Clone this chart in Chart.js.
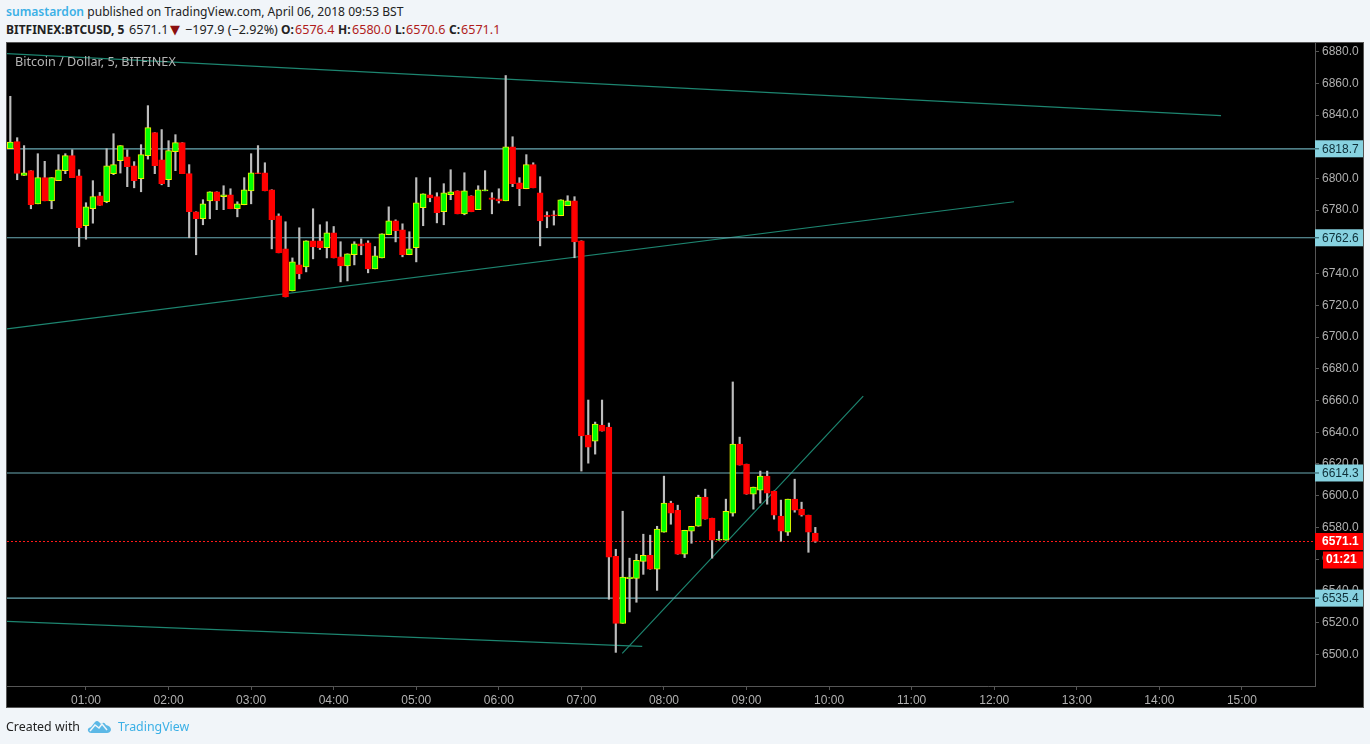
<!DOCTYPE html>
<html>
<head>
<meta charset="utf-8">
<title>BTCUSD</title>
<script src="https://cdn.jsdelivr.net/npm/chart.js@4"></script>
<style>
  html, body { margin: 0; padding: 0; background: #f1f5f9; }
  body { width: 1370px; height: 744px; position: relative; overflow: hidden; font-family: "Noto Sans", sans-serif; color: #222; }
  .txt { position: absolute; white-space: nowrap; font-size: 12px; line-height: 16px; }
  .row2 { top: 22px; font-size: 12.6px; }
  .key { top: 22px; font-weight: bold; }
  .blue { color: #3bb0e6; }
  .red { color: #b01c1c; }
  #panel { position: absolute; left: 6px; top: 42px; width: 1358px; height: 666px; box-sizing: border-box; background: #000; border: 1px solid #555; }
  #price { position: absolute; left: 0; top: 0; }
  #logo { position: absolute; left: 87px; top: 717px; }
</style>
</head>
<body>
<div class="txt" style="left:6px;top:4px;font-size:12.1px"><span class="blue" style="font-weight:600">sumastardon</span> published on TradingView.com, April 06, 2018 09:53 BST</div>
<div class="txt key" style="left:6px">BITFINEX:BTCUSD, 5</div>
<div class="txt row2" style="left:129px">6571.1</div>
<div class="txt row2" style="left:170px;color:#8b0f0f;font-family:'DejaVu Sans';font-size:13px">▼</div>
<div class="txt row2" style="left:185px">−197.9 (−2.92%)</div>
<div class="txt key" style="left:281px">O:</div>
<div class="txt row2 red" style="left:295px">6576.4</div>
<div class="txt key" style="left:338px">H:</div>
<div class="txt row2 red" style="left:352px">6580.0</div>
<div class="txt key" style="left:395px">L:</div>
<div class="txt row2 red" style="left:406px">6570.6</div>
<div class="txt key" style="left:449px">C:</div>
<div class="txt row2 red" style="left:461px">6571.1</div>
<div id="panel"></div>
<canvas id="price" width="1370" height="744"></canvas>
<div class="txt" style="left:15px;top:53px;color:#b4b4b4;font-size:12.65px">Bitcoin / Dollar, 5, BITFINEX</div>
<div class="txt" style="left:6px;top:719px;font-size:12.4px">Created with</div>
<svg id="logo" width="25" height="18" viewBox="0 0 25 18">
  <path d="M1 14 Q0 11 4 10 L8 5 Q10 3 12 5 L14 7 Q17 4 19 8 Q24 9 24 13 Q23 16 20 16 L4 16 Q2 16 1 14 Z" fill="#5cb8e6"/>
  <path d="M3 14 L8 8 L12 11 L15 7 L20 13" fill="none" stroke="#f1f5f9" stroke-width="1.5"/>
</svg>
<div class="txt blue" style="left:118px;top:719px;font-size:12.4px">TradingView</div>

<script>
// candles, 5 min each
const opens = [
  6818.8, 6823.2, 6801.9, 6804.9, 6784.0, 6800.5, 6785.9, 6798.6, 6804.9, 6814.4,
  6801.7, 6770.2, 6780.9, 6789.1, 6785.3, 6803.0, 6811.2, 6813.7, 6808.0, 6799.8,
  6814.4, 6828.9, 6811.8, 6799.2, 6816.9, 6822.6, 6803.0, 6779.0, 6774.6, 6785.9,
  6791.6, 6788.5, 6789.7, 6780.9, 6783.4, 6792.2, 6803.6, 6803.6, 6792.9, 6776.5,
  6755.6, 6729.1, 6745.5, 6744.3, 6760.7, 6760.7, 6756.3, 6765.7, 6750.6, 6744.9,
  6751.9, 6758.8, 6759.4, 6743.0, 6749.9, 6764.5, 6773.3, 6767.6, 6751.9, 6756.3,
  6781.5, 6789.7, 6788.5, 6779.0, 6789.7, 6792.2, 6777.7, 6789.1, 6780.3, 6792.2,
  6787.8, 6787.2, 6785.9, 6820.0, 6797.3, 6793.5, 6808.7, 6791.0, 6776.7, 6777.1,
  6776.5, 6782.8, 6785.9, 6760.7, 6638.2, 6634.4, 6644.5, 6643.3, 6561.8, 6519.5,
  6547.7, 6547.9, 6558.6, 6562.4, 6553.6, 6577.0, 6595.3, 6590.8, 6563.1, 6577.6,
  6580.7, 6599.1, 6585.8, 6571.9, 6571.9, 6589.0, 6632.5, 6619.9, 6600.9, 6603.5,
  6612.3, 6602.9, 6587.1, 6577.0, 6597.8, 6591.5, 6587.7, 6576.4
];
const highs = [
  6851.8, 6825.7, 6820.7, 6804.9, 6815.6, 6810.8, 6800.5, 6815.0, 6815.6, 6818.1,
  6805.5, 6784.7, 6798.6, 6791.2, 6818.8, 6828.2, 6820.7, 6818.1, 6810.6, 6821.3,
  6845.9, 6828.9, 6830.8, 6823.8, 6827.6, 6822.6, 6808.7, 6779.0, 6786.6, 6791.6,
  6791.6, 6795.4, 6793.5, 6785.3, 6800.5, 6815.6, 6820.7, 6809.9, 6792.9, 6777.7,
  6772.7, 6749.9, 6768.9, 6760.7, 6780.9, 6770.8, 6772.7, 6769.7, 6760.1, 6752.5,
  6760.1, 6761.9, 6760.7, 6757.1, 6765.1, 6782.1, 6773.9, 6771.4, 6766.4, 6800.5,
  6790.3, 6800.5, 6791.0, 6796.7, 6805.5, 6792.2, 6803.6, 6789.1, 6795.4, 6804.9,
  6791.0, 6793.5, 6864.9, 6826.3, 6800.5, 6815.0, 6809.9, 6801.1, 6779.0, 6779.6,
  6786.6, 6789.1, 6788.5, 6760.7, 6660.3, 6646.4, 6660.3, 6645.8, 6566.2, 6590.2,
  6560.6, 6563.1, 6575.7, 6575.1, 6580.7, 6612.3, 6596.5, 6594.0, 6578.2, 6580.7,
  6600.3, 6604.1, 6585.8, 6577.6, 6597.8, 6671.7, 6636.9, 6619.9, 6605.4, 6615.5,
  6615.5, 6602.9, 6597.2, 6597.8, 6610.4, 6595.9, 6587.7, 6580.0
];
const lows = [
  6818.8, 6799.2, 6801.9, 6780.9, 6784.0, 6785.9, 6780.9, 6798.6, 6803.0, 6800.5,
  6757.1, 6761.7, 6771.8, 6783.0, 6784.7, 6802.4, 6803.4, 6794.8, 6794.1, 6791.6,
  6812.2, 6803.0, 6796.0, 6794.8, 6804.9, 6803.0, 6762.6, 6751.9, 6770.8, 6774.6,
  6780.3, 6780.3, 6780.9, 6775.8, 6783.4, 6784.0, 6803.0, 6792.2, 6755.6, 6753.1,
  6725.3, 6729.1, 6736.7, 6741.1, 6749.3, 6755.2, 6749.9, 6749.9, 6734.8, 6735.4,
  6745.5, 6751.9, 6740.5, 6743.0, 6749.9, 6764.5, 6760.0, 6750.6, 6751.9, 6747.4,
  6770.2, 6785.3, 6772.0, 6770.8, 6786.6, 6777.7, 6777.1, 6779.0, 6780.3, 6792.2,
  6777.7, 6784.5, 6785.9, 6794.8, 6782.8, 6793.5, 6794.1, 6757.5, 6768.9, 6770.6,
  6776.5, 6782.8, 6750.0, 6615.5, 6620.5, 6626.2, 6640.7, 6534.7, 6501.2, 6519.5,
  6526.7, 6532.8, 6550.4, 6553.6, 6540.3, 6577.0, 6582.0, 6563.1, 6561.0, 6570.0,
  6580.7, 6585.2, 6560.6, 6571.9, 6571.9, 6587.1, 6619.3, 6600.9, 6591.5, 6595.3,
  6594.6, 6585.2, 6571.3, 6574.9, 6589.6, 6587.1, 6564.3, 6570.6
];
const closes = [
  6823.0, 6803.2, 6803.6, 6783.4, 6800.5, 6785.9, 6800.5, 6805.5, 6814.4, 6800.5,
  6768.9, 6782.1, 6788.5, 6783.0, 6808.0, 6808.7, 6820.7, 6807.4, 6798.6, 6815.0,
  6832.0, 6808.0, 6796.7, 6817.5, 6822.6, 6803.0, 6779.0, 6774.6, 6784.0, 6791.6,
  6785.9, 6789.7, 6780.9, 6784.0, 6792.9, 6803.6, 6803.0, 6792.2, 6774.0, 6753.1,
  6725.3, 6747.4, 6739.8, 6760.7, 6756.9, 6756.3, 6765.7, 6749.9, 6744.9, 6752.5,
  6758.8, 6757.5, 6743.0, 6751.2, 6765.1, 6773.3, 6767.0, 6751.9, 6755.6, 6784.7,
  6790.3, 6787.8, 6778.4, 6791.0, 6791.6, 6777.7, 6792.2, 6779.0, 6792.9, 6792.9,
  6786.8, 6785.9, 6820.0, 6796.7, 6793.5, 6808.7, 6794.1, 6773.3, 6775.8, 6776.5,
  6786.6, 6785.9, 6760.0, 6637.6, 6630.6, 6645.1, 6640.7, 6561.2, 6519.5, 6548.6,
  6548.6, 6559.3, 6562.4, 6553.6, 6578.9, 6595.3, 6589.0, 6563.1, 6578.2, 6580.7,
  6599.1, 6585.2, 6571.9, 6572.5, 6590.2, 6632.5, 6619.3, 6600.9, 6605.4, 6612.3,
  6601.6, 6587.7, 6577.6, 6597.8, 6590.8, 6587.7, 6577.0, 6571.1
];

const hourLabels = ['01:00','02:00','03:00','04:00','05:00','06:00','07:00','08:00','09:00','10:00','11:00','12:00','13:00','14:00','15:00'];
const hourMinutes = [60,120,180,240,300,360,420,480,540,600,660,720,780,840,900];
const priceTicks = [6880,6860,6840,6820,6800,6780,6760,6740,6720,6700,6680,6660,6640,6620,6600,6580,6560,6540,6520,6500];

// horizontal levels and their tags on the axis
const levels = [6818.7, 6762.6, 6614.3, 6535.4];
const lastPrice = 6571.1;
const countdown = '01:21';

// trend lines: minutes since 00:00 / price at both ends
const trendMinutes = [[2.6, 884.8], [2.6, 734.4], [2.6, 464.2], [449.7, 624.8]];
const trendPrices = [[6878.7, 6839.6], [6705.1, 6785.3], [6520.8, 6505.0], [6500.6, 6662.8]];

const xMin = 2.6, xMax = 953.1;
const yMin = 6480, yMax = 6885.4;

const GREEN = '#00ff00', YELLOW = '#f0f000', RED = '#ff0000';
const AXIS = '#555555', LABEL = '#b0b0b0', TAG = '#87d2e0', LEVEL = '#6aaab4', TREND = '#1d8570';

const minutes = opens.map((o, i) => (i + 1) * 5);
const isUp = opens.map((o, i) => closes[i] >= o);

function lineSet(xs, ys, color, extra) {
  return Object.assign({
    type: 'line',
    data: [{ x: xs[0], y: ys[0] }, { x: xs[1], y: ys[1] }],
    borderColor: color,
    borderWidth: 1.2,
    pointRadius: 0,
    tension: 0,
    order: 5
  }, extra);
}

// price tags are drawn over the axis labels
const tagPlugin = {
  id: 'tags',
  afterDraw(chart) {
    const ctx = chart.ctx;
    const y = chart.scales.y;
    const left = chart.chartArea.right;
    const right = 1363;
    ctx.save();
    ctx.textBaseline = 'middle';
    ctx.textAlign = 'left';

    levels.forEach(v => {
      const py = y.getPixelForValue(v);
      ctx.fillStyle = TAG;
      ctx.fillRect(left, py - 8.5, right - left, 17);
      ctx.fillStyle = '#24505a';
      ctx.fillRect(left, py - 0.5, 4, 1);
      ctx.fillStyle = '#0e2f38';
      ctx.font = '12px "Liberation Sans", Arial, sans-serif';
      ctx.fillText(v.toFixed(1), left + 7, py + 0.5);
    });

    const py = y.getPixelForValue(lastPrice);
    ctx.fillStyle = RED;
    ctx.fillRect(left, py - 8.5, right - left, 17);
    ctx.fillRect(left + 8, py + 10, right - left - 8, 17);
    ctx.fillStyle = '#ffffff';
    ctx.font = 'bold 12px "Liberation Sans", Arial, sans-serif';
    ctx.fillText(lastPrice.toFixed(1), left + 7, py + 0.5);
    ctx.fillText(countdown, left + 11, py + 18.5);
    ctx.restore();
  }
};

const ctx = document.getElementById('price').getContext('2d');
new Chart(ctx, {
  data: {
    datasets: [
      ...levels.map(v => lineSet([xMin, xMax], [v, v], LEVEL)),
      lineSet([xMin, xMax], [lastPrice, lastPrice], '#ff1a1a', { borderDash: [2, 2], borderWidth: 1 }),
      ...trendMinutes.map((m, i) => lineSet(m, trendPrices[i], TREND)),
      {
        // wicks
        type: 'bar',
        data: minutes.map((m, i) => ({ x: m, y: [lows[i], highs[i]] })),
        backgroundColor: '#bdbdbd',
        barThickness: 1.5,
        grouped: false,
        order: 3
      },
      {
        // bodies
        type: 'bar',
        data: minutes.map((m, i) => ({ x: m, y: [opens[i], closes[i]] })),
        backgroundColor: isUp.map(u => u ? GREEN : RED),
        borderColor: isUp.map(u => u ? YELLOW : RED),
        borderWidth: 1,
        borderSkipped: false,
        barThickness: 6,
        grouped: false,
        order: 2
      }
    ]
  },
  options: {
    responsive: false,
    animation: false,
    events: [],
    layout: { padding: { left: 7, right: 6, top: 43, bottom: 36 } },
    plugins: { legend: { display: false }, tooltip: { enabled: false } },
    scales: {
      x: {
        type: 'linear',
        offset: false,
        min: xMin,
        max: xMax,
        afterBuildTicks: s => { s.ticks = hourMinutes.map(v => ({ value: v })); },
        afterFit: s => { s.height = 22; },
        grid: { offset: false, drawOnChartArea: false, tickLength: 4, tickColor: AXIS },
        border: { color: AXIS },
        ticks: {
          autoSkip: false,
          maxRotation: 0,
          padding: 3,
          color: LABEL,
          font: { family: '"Liberation Sans", Arial, sans-serif', size: 12 },
          callback: v => hourLabels[hourMinutes.indexOf(v)]
        }
      },
      y: {
        type: 'linear',
        position: 'right',
        min: yMin,
        max: yMax,
        afterBuildTicks: s => { s.ticks = priceTicks.map(v => ({ value: v })); },
        afterFit: s => { s.width = 49; },
        grid: { drawOnChartArea: false, tickLength: 4, tickColor: AXIS },
        border: { color: AXIS },
        ticks: {
          autoSkip: false,
          padding: 3,
          color: LABEL,
          font: { family: '"Liberation Sans", Arial, sans-serif', size: 12 },
          callback: v => v.toFixed(1)
        }
      }
    }
  },
  plugins: [tagPlugin]
});
</script>
</body>
</html>
